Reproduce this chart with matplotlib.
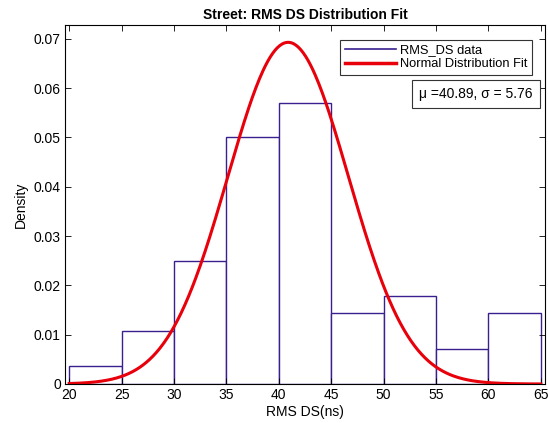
import numpy as np
import matplotlib
matplotlib.use("Agg")
import matplotlib.pyplot as plt
from matplotlib.lines import Line2D

plt.rcParams['font.family'] = ['Liberation Sans', 'DejaVu Sans']

bin_edges = [20, 25, 30, 35, 40, 45, 50, 55, 60, 65]
density = [0.0036, 0.0107, 0.025, 0.050, 0.057, 0.0143, 0.0179, 0.0071, 0.0143]
mu = 40.89
sigma = 5.76
xticks = [20, 25, 30, 35, 40, 45, 50, 55, 60, 65]
yticks = [0, 0.01, 0.02, 0.03, 0.04, 0.05, 0.06, 0.07]

hist_color = '#3a1f8f'
fit_color = '#e8000b'

fig = plt.figure(figsize=(5.48, 4.23), dpi=100)
ax = fig.add_axes([0.1186, 0.0922, 0.876, 0.849])

edges = np.array(bin_edges)
ax.bar(edges[:-1], density, width=np.diff(edges), align='edge', facecolor='white',
       edgecolor=hist_color, linewidth=1.0)
x = np.linspace(20, 65, 400)
pdf = np.exp(-0.5 * ((x - mu) / sigma) ** 2) / (sigma * np.sqrt(2 * np.pi))
ax.plot(x, pdf, color=fit_color, linewidth=2.2)

ax.set_xlim(19.6, 65.4)
ax.set_ylim(0, 0.0728)
ax.set_xticks(xticks)
ax.set_yticks(yticks)
ax.set_yticklabels(['0', '0.01', '0.02', '0.03', '0.04', '0.05', '0.06', '0.07'])
ax.tick_params(direction='in', top=True, right=True, labelsize=10, length=4, width=0.6, pad=3)
for s in ax.spines.values():
    s.set_linewidth(0.8)

ax.set_title('Street: RMS DS Distribution Fit', fontsize=10, fontweight='bold', pad=4)
ax.set_xlabel('RMS DS(ns)', fontsize=10, labelpad=2)
ax.set_ylabel('Density', fontsize=10, labelpad=4)

handles = [Line2D([], [], color=hist_color, linewidth=1.2),
           Line2D([], [], color=fit_color, linewidth=2.5)]
leg = ax.legend(handles, ['RMS_DS data', 'Normal Distribution Fit'],
                loc='upper left', bbox_to_anchor=(0.573, 0.958), fontsize=9.3, frameon=True,
                fancybox=False, edgecolor='#333333', handlelength=4.0, borderpad=0.35,
                labelspacing=0.12, handletextpad=0.3, borderaxespad=0.0, framealpha=1)
leg.get_frame().set_linewidth(0.8)

ax.text(0.974, 0.826, 'μ =40.89, σ = 5.76', transform=ax.transAxes, ha='right', va='top',
        fontsize=10, bbox=dict(boxstyle='square,pad=0.5', facecolor='white', edgecolor='#333333', linewidth=0.8))

fig.savefig('out.png', dpi=100)
